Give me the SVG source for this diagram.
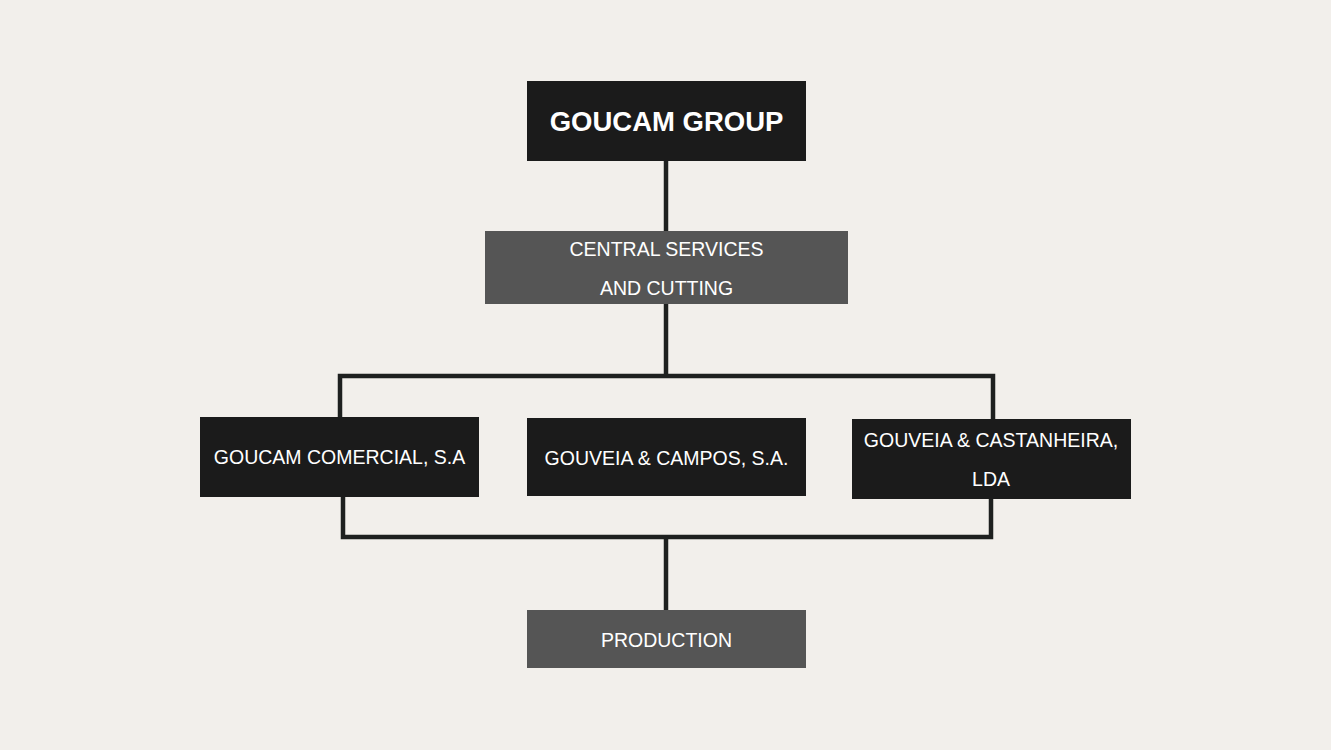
<svg xmlns="http://www.w3.org/2000/svg" width="1331" height="750" viewBox="0 0 1331 750">
<style>
.dark{fill:#1b1b1b}
.grey{fill:#555555}
.t{font-family:"Liberation Sans",Arial,sans-serif;fill:#ffffff;font-size:19.5px;text-anchor:middle}
.b{font-weight:bold;font-size:27.5px}
.c{stroke:#1e201f;stroke-width:4.5;fill:none;stroke-linejoin:miter}
</style>
<rect width="1331" height="750" fill="#f2efeb"/>
<g id="connectors">
<line class="c" x1="666" y1="161" x2="666" y2="231"/>
<line class="c" x1="666" y1="304" x2="666" y2="376"/>
<polyline class="c" points="340,418 340,376 993,376 993,420"/>
<polyline class="c" points="343,496 343,537 991,537 991,498"/>
<line class="c" x1="666" y1="537" x2="666" y2="610"/>
</g>
<g id="goucam-group">
<rect class="dark" x="527" y="81" width="279" height="80"/>
<text class="t b" x="666.5" y="131">GOUCAM GROUP</text>
</g>
<g id="central-services">
<rect class="grey" x="485" y="231" width="363" height="73"/>
<text class="t" x="666.5" y="256">CENTRAL SERVICES</text>
<text class="t" x="666.5" y="295">AND CUTTING</text>
</g>
<g id="goucam-comercial">
<rect class="dark" x="200" y="417" width="279" height="80"/>
<text class="t" x="339.5" y="464">GOUCAM COMERCIAL, S.A</text>
</g>
<g id="gouveia-campos">
<rect class="dark" x="527" y="418" width="279" height="78"/>
<text class="t" x="666.5" y="465">GOUVEIA &amp; CAMPOS, S.A.</text>
</g>
<g id="gouveia-castanheira">
<rect class="dark" x="852" y="419" width="279" height="80"/>
<text class="t" x="991" y="447">GOUVEIA &amp; CASTANHEIRA,</text>
<text class="t" x="991" y="486">LDA</text>
</g>
<g id="production">
<rect class="grey" x="527" y="610" width="279" height="58"/>
<text class="t" x="666.5" y="647">PRODUCTION</text>
</g>
</svg>
